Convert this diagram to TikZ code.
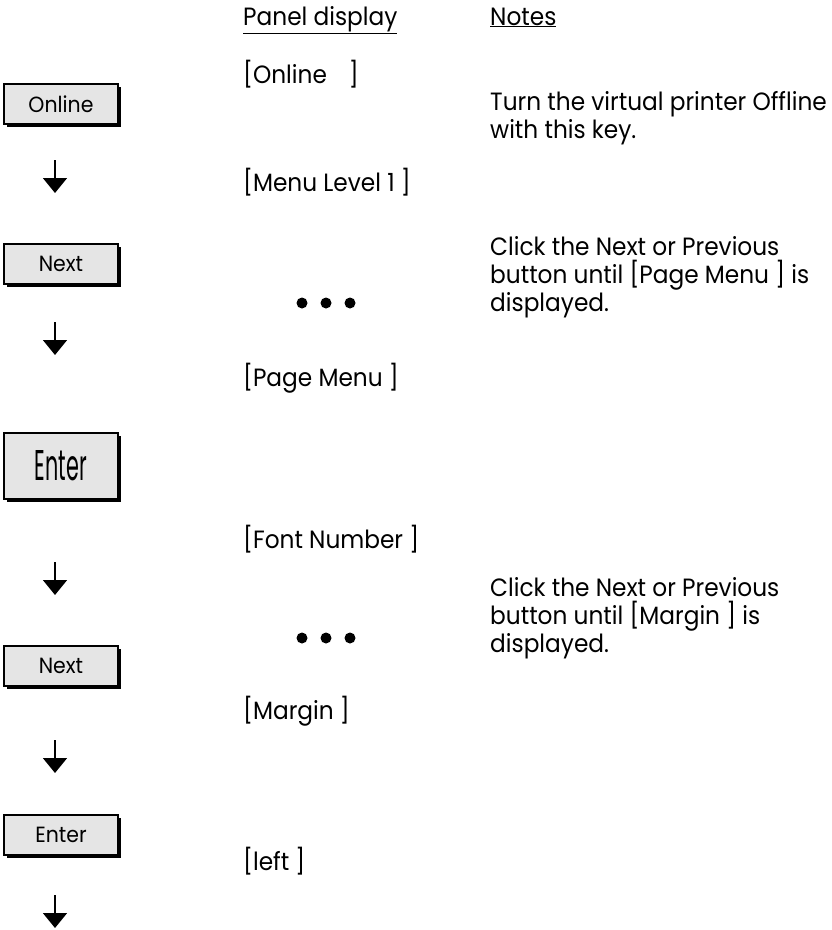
\documentclass[tikz,border=0pt]{standalone}
\usepackage{fontspec}
\usepackage{graphicx}
\setmainfont{Poppins}[FakeStretch=0.93]
\usetikzlibrary{arrows.meta,shadows}
\tikzset{
  btn/.style={draw=black, line width=1.2pt, fill=black!10, minimum width=114pt, minimum height=40pt,
    inner sep=0pt, font=\fontsize{22}{26}\selectfont,
    drop shadow={shadow xshift=3pt, shadow yshift=-3pt, fill=black, opacity=1}},
  txt/.style={anchor=base west, inner sep=0pt, font=\fontsize{25}{28}\selectfont},
  note/.style={txt, align=left},
  downarr/.style={line width=1.6pt, -{Triangle[width=24pt,length=15pt]}},
  dotm/.style={circle, fill=black, inner sep=0pt, minimum size=11pt}
}
\begin{document}
\begin{tikzpicture}[x=1pt,y=-1pt]
\useasboundingbox (0,0) rectangle (832,930);
% headers
\node[txt] (h1) at (243,25) {\underline{Panel display}};
\node[txt] (h2) at (490,25) {\underline{Notes}};
% buttons
\node[btn] (b1) at (61,104) {Online};
\node[btn] (b2) at (61,264) {Next};
\node[btn, minimum height=66pt] (b3) at (61,466) {\resizebox{52pt}{30pt}{Enter}};
\node[btn] (b4) at (61,666) {Next};
\node[btn] (b5) at (61,835) {Enter};
% arrows
\foreach \i/\t in {1/160,2/322,3/562,4/740,5/895}{
  \coordinate (as\i) at (55,\t);
  \coordinate (ae\i) at (55,\t+33);
  \draw[downarr] (as\i) -- (ae\i);
}
% panel display
\node[txt] (p1) at (243,83) {[Online\hspace{22pt}]};
\node[txt] (p2) at (243,191) {[Menu Level 1 ]};
\node[dotm] (d1) at (302,303) {};
\node[dotm] (d2) at (326,303) {};
\node[dotm] (d3) at (350,303) {};
\node[txt] (p3) at (243,386) {[Page Menu ]};
\node[txt] (p4) at (243,548) {[Font Number ]};
\node[dotm] (d4) at (302,638) {};
\node[dotm] (d5) at (326,638) {};
\node[dotm] (d6) at (350,638) {};
\node[txt] (p5) at (243,719) {[Margin ]};
\node[txt] (p6) at (243,870) {[left ]};
% notes (base anchor = last line)
\node[note] (n1) at (490,138) {Turn the virtual printer Offline\\with this key.};
\node[note] (n2) at (490,311) {Click the Next or Previous\\button until [Page Menu ] is\\displayed.};
\node[note] (n3) at (490,652) {Click the Next or Previous\\button until [Margin ] is\\displayed.};
\end{tikzpicture}
\end{document}
